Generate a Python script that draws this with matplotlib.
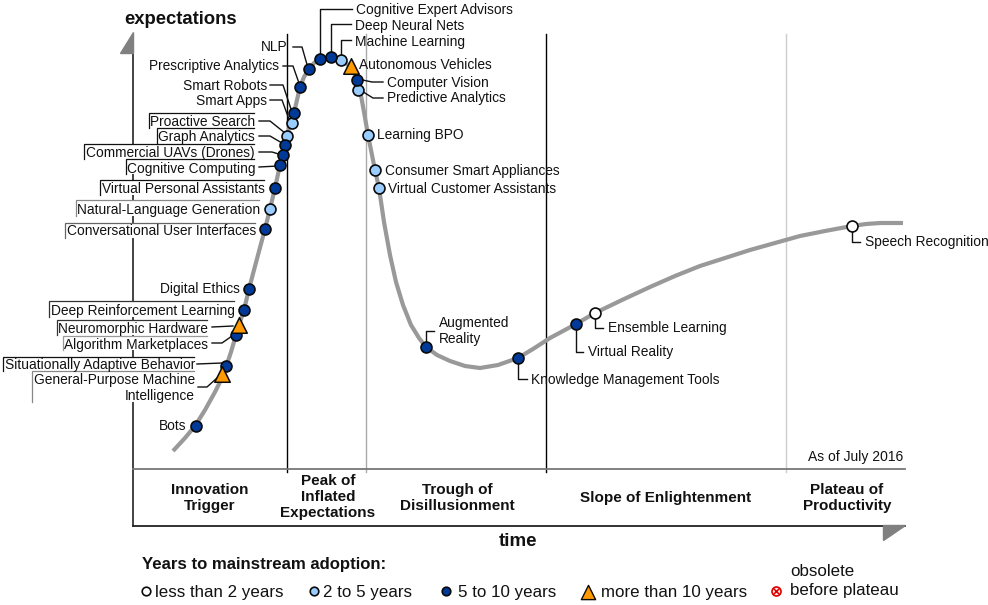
import matplotlib
matplotlib.use("Agg")
import matplotlib.pyplot as plt
from matplotlib.patches import Polygon, Rectangle

plt.rcParams['font.family'] = ['Liberation Sans', 'DejaVu Sans']

# Hype curve (pixel-based chart units)
curve_x = [173,185,195,205,215,221,226,231,236,240,244,249,254,258,265,270,275,280,285,291,294,297,300,304,309,314,320,326,331,336,341,346,351,355,357,360,364,368,372,375,379,384,390,396,403,411,419,426,437,450,465,480,498,518,533,550,576,595,622,650,675,700,725,750,775,800,825,852,866,880,903]
curve_y = [451,438,426,410,392,380,367,352,335,322,310,289,270,255,229,209,188,165,145,120,113,100,87,77,69,63,59,57.5,57,58,60,63,68,75,80,90,112,135,155,170,188,222,255,282,305,325,338,347,355,361,366,368,365,358,349,338,324,313,300,287,276,266,258,250,243,236,231,226,224,223,223]

# Technologies
names = ["Cognitive Expert Advisors","Deep Neural Nets","Machine Learning","Autonomous Vehicles","Computer Vision","Predictive Analytics","Learning BPO","Consumer Smart Appliances","Virtual Customer Assistants","NLP","Prescriptive Analytics","Smart Robots","Smart Apps","Proactive Search","Graph Analytics","Commercial UAVs (Drones)","Cognitive Computing","Virtual Personal Assistants","Natural-Language Generation","Conversational User Interfaces","Digital Ethics","Deep Reinforcement Learning","Neuromorphic Hardware","Algorithm Marketplaces","Situationally Adaptive Behavior","General-Purpose Machine\nIntelligence","Bots","Augmented\nReality","Knowledge Management Tools","Virtual Reality","Ensemble Learning","Speech Recognition"]
tech_x = [320,331,341,351,357,358,368,375,379,309,300,294,292,287,285,283,280,275,270,265,249,244,239,236,226,222,196,426,518,576,595,852]
tech_y = [59,57,60,66,80,90,135,170,188,69,87,113,123,136,145,155,165,188,209,229,289,310,325,335,366,374,426,347,358,324,313,226]
adoption = ["5-10","5-10","2-5","10+","5-10","2-5","2-5","2-5","2-5","5-10","5-10","5-10","2-5","2-5","5-10","5-10","5-10","5-10","2-5","5-10","5-10","5-10","10+","5-10","5-10","10+","5-10","5-10","5-10","5-10","<2","<2"]
label_x = [356,355,355,359,387,387,377,385,388,287,279,267,267,255,255,255,255,265,260,256,240,235,208,208,195,195,186,439,531,588,608,865]
label_y = [10,26,42,65,83,98,135,171,189,47,66,86,101,122,137,153,169,189,210,231,289,311,329,345,365,388,426,331,380,352,328,242]
label_ha = ["left"]*9 + ["right"]*18 + ["left"]*5

# Leader lines
leaders = [
 [(352,9),(320,9),(320,56)], [(351,24),(331,24),(331,54)], [(351,40),(341,40),(341,56)],
 [(383,82),(372,82),(358,79)], [(383,98),(373,98),(360,90)],
 [(293,47),(302,47),(308,68)], [(283,66),(293,66),(300,86)],
 [(270,85),(283,85),(292,112)], [(270,100),(282,100),(290,122)],
 [(259,121),(270,121),(285,133)], [(259,136),(270,136),(282,143)],
 [(259,152),(272,152),(282,155)], [(259,167),(278,166)],
 [(212,327),(233,326)], [(212,343),(222,343),(232,336)],
 [(197,364),(222,363)], [(198,387),(207,387),(217,378)],
 [(852,232),(852,242),(860,242)], [(518,360),(518,379),(527,379)],
 [(576,326),(576,352),(583,352)], [(595,316),(595,328),(603,328)],
 [(426,345),(426,331),(434,331)],
]

# Framed labels: left, top, right, bottom, edge colour
frame_left = [149,157,84,126,100,76,65,49,57,63,3,32]
frame_top = [113,128,144,159,180,200,223,301,320,336,357,371]
frame_right = [254,254,254,254,264,259,255,234,207,207,194,194]
frame_bottom = [128,144,159,174,195,216,238,317,335,350,371,402]
frame_color = ["#111111","#111111","#111111","#111111","#111111","#888888","#666666","#333333","#333333","#999999","#111111","#888888"]

# Phases
phases = ["Innovation\nTrigger","Peak of\nInflated\nExpectations","Trough of\nDisillusionment","Slope of Enlightenment","Plateau of\nProductivity"]
phase_x = [210,328,457,666,847]
phase_y = [498,497,498,498,498]
phase_dividers = [287,366,546,786]
divider_color = ["#000000","#aaaaaa","#000000","#cccccc"]

legend_text = ["less than 2 years","2 to 5 years","5 to 10 years","more than 10 years"]
legend_keys = ["<2","2-5","5-10","10+"]
legend_marker_x = [146,314,446,588]
legend_text_x = [155,323,458,601]

colors = {"<2":"#ffffff","2-5":"#99ccff","5-10":"#003a99","10+":"#ff9900"}

fig = plt.figure(figsize=(9.88,6.05),dpi=100)
ax = fig.add_axes([0,0,1,1])
ax.set_xlim(0,988); ax.set_ylim(605,0); ax.axis("off")

# frame
for x,c in zip(phase_dividers,divider_color):
    ax.plot([x,x],[34,472],color=c,lw=1.0,zorder=1)
ax.plot([133,133],[40,526],color="#111111",lw=1.1,zorder=1)
ax.plot([133,905],[525.5,525.5],color="#222222",lw=1.3,zorder=1)
ax.plot([133,905],[468.5,468.5],color="#777777",lw=1.3,zorder=1)
ax.add_patch(Polygon([(133,32),(133,53),(120,53)],color="#808080",zorder=2))
ax.add_patch(Polygon([(905,525),(883,525),(883,540)],color="#808080",zorder=2))

ax.plot(curve_x,curve_y,color="#999999",lw=3.0,zorder=3,solid_capstyle="butt",solid_joinstyle="round")

# label frames
for l,t,r,b,c in zip(frame_left,frame_top,frame_right,frame_bottom,frame_color):
    ax.add_patch(Rectangle((l,t),r-l,b-t,facecolor="white",edgecolor="none",zorder=2.5))
    ax.plot([l,l,r],[b,t,t],color=c,lw=0.9,zorder=4,solid_joinstyle="miter")

for pts in leaders:
    ax.plot([p[0] for p in pts],[p[1] for p in pts],color="#111111",lw=1.0,zorder=4)

# technologies
mk = dict(s=62,edgecolors="#0a0a0a",linewidths=1.2,zorder=5)
for key in colors:
    xs=[x for x,a in zip(tech_x,adoption) if a==key]
    ys=[y for y,a in zip(tech_y,adoption) if a==key]
    if key=="10+":
        ax.scatter(xs,ys,marker="^",s=125,facecolors=colors[key],edgecolors="#0a0a0a",linewidths=1.1,zorder=6)
    else:
        ax.scatter(xs,ys,marker="o",facecolors=colors[key],**mk)

for n,x,y,ha in zip(names,label_x,label_y,label_ha):
    ax.text(x,y,n,ha=ha,va="center",fontsize=9.9,color="#111111",zorder=7,linespacing=1.1,multialignment=ha)

ax.text(903,457,"As of July 2016",ha="right",va="center",fontsize=10,color="#111111")
ax.text(124,20,"expectations",ha="left",va="center",fontsize=13.3,fontweight="bold",color="#111111")
ax.text(518,541,"time",ha="center",va="center",fontsize=13.5,fontweight="bold",color="#111111")
for n,x,y in zip(phases,phase_x,phase_y):
    ax.text(x,y,n,ha="center",va="center",fontsize=11,fontweight="bold",color="#111111",linespacing=1.22)

# legend
ax.text(142,565,"Years to mainstream adoption:",ha="left",va="center",fontsize=12.1,fontweight="bold",color="#111111")
for t,k,mx,tx in zip(legend_text,legend_keys,legend_marker_x,legend_text_x):
    if k=="10+":
        ax.scatter([mx],[592],marker="^",s=105,facecolors=colors[k],edgecolors="#0a0a0a",linewidths=1.0,zorder=6)
    else:
        ax.scatter([mx],[591],marker="o",s=38,facecolors=colors[k],edgecolors="#0a0a0a",linewidths=1.2,zorder=6)
    ax.text(tx,592,t,ha="left",va="center",fontsize=12.2,color="#111111")
ax.text(790,571,"obsolete",ha="left",va="center",fontsize=12.2,color="#111111")
ax.text(790,591,"before plateau",ha="left",va="center",fontsize=12.2,color="#111111")
ax.scatter([776],[591],marker="o",s=42,facecolors="#ffe8e8",edgecolors="#dd0000",linewidths=1.2,zorder=6)
ax.scatter([776],[591],marker="x",s=16,color="#dd0000",linewidths=1.1,zorder=7)

fig.savefig("out.png",dpi=100)
